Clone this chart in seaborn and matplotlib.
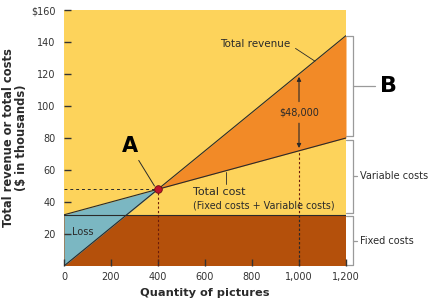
import matplotlib
matplotlib.use("Agg")
import matplotlib.pyplot as plt
import seaborn as sns
import numpy as np
import pandas as pd

# ---- data ----
quantity = [0, 200, 400, 600, 800, 1000, 1200]
total_revenue = [0, 24, 48, 72, 96, 120, 144]
total_cost = [32, 40, 48, 56, 64, 72, 80]
fixed_cost = 32
break_even_qty = 400
break_even_value = 48
profit_qty = 1000
x_ticks = [0, 200, 400, 600, 800, 1000, 1200]
x_tick_labels = ["0", "200", "400", "600", "800", "1,000", "1,200"]
y_ticks = [20, 40, 60, 80, 100, 120, 140, 160]
y_tick_labels = ["20", "40", "60", "80", "100", "120", "140", "$160"]

sns.set_theme(style="white")
plt.rcParams['font.family'] = ['DejaVu Sans']

YELLOW = "#FDD35B"
BROWN = "#B4500B"
ORANGE = "#F28A27"
TEAL = "#7BB7C2"
DARK = "#2a2a2a"
GRAY = "#9a9a9a"

df = pd.DataFrame({"q": quantity, "rev": total_revenue, "cost": total_cost})

fig = plt.figure(figsize=(4.43, 3.08), dpi=100)
ax = fig.add_axes([64/443, 42/308, 282/443, 256/308])
ax.set_facecolor(YELLOW)
ax.set_axisbelow(False)
ax.set_xlim(0, 1200)
ax.set_ylim(0, 160)

q = np.array(quantity, dtype=float)
rev = np.array(total_revenue, dtype=float)
cost = np.array(total_cost, dtype=float)

# fixed cost region
ax.fill_between(q, 0, fixed_cost, color=BROWN, lw=0, zorder=1)
# loss and profit regions
ax.fill_between(q, rev, cost, where=rev <= cost, interpolate=True, color=TEAL, lw=0, zorder=2)
ax.fill_between(q, rev, cost, where=rev >= cost, interpolate=True, color=ORANGE, lw=0, zorder=2)

# lines
sns.lineplot(data=df, x="q", y="rev", ax=ax, color=DARK, lw=0.8, zorder=3)
sns.lineplot(data=df, x="q", y="cost", ax=ax, color=DARK, lw=0.8, zorder=3)
ax.plot([0, 1200], [fixed_cost, fixed_cost], color=DARK, lw=0.8, zorder=3)

# break-even guides
ax.plot([0, break_even_qty], [break_even_value, break_even_value], color=DARK, lw=0.7, ls=(0, (3, 3)), zorder=3)
ax.plot([break_even_qty, break_even_qty], [0, break_even_value], color="#6b1a0a", lw=0.8, ls=(0, (2, 2)), zorder=3)
cost_at_p = np.interp(profit_qty, q, cost)
rev_at_p = np.interp(profit_qty, q, rev)
ax.plot([profit_qty, profit_qty], [0, cost_at_p], color="#6b1a0a", lw=0.8, ls=(0, (2, 2)), zorder=3)
ax.plot([profit_qty, profit_qty], [0, fixed_cost], color=DARK, lw=0.8, ls=(0, (2, 2)), zorder=3)

# profit arrow
mid = (cost_at_p + rev_at_p) / 2
ax.annotate("", xy=(profit_qty, rev_at_p), xytext=(profit_qty, mid + 5),
            arrowprops=dict(arrowstyle="-|>", color=DARK, lw=0.8, mutation_scale=6), zorder=4)
ax.annotate("", xy=(profit_qty, cost_at_p), xytext=(profit_qty, mid - 5),
            arrowprops=dict(arrowstyle="-|>", color=DARK, lw=0.8, mutation_scale=6), zorder=4)
ax.text(profit_qty, mid, "$48,000", ha="center", va="center", fontsize=7, color=DARK, zorder=5)

# break-even point
ax.scatter([break_even_qty], [break_even_value], s=30, color="#C0142C", edgecolor="#6b0a10", lw=0.6, zorder=6)
ax.plot([318, 385], [66, 50], color=DARK, lw=0.7, zorder=5)
ax.text(282, 75, "A", fontsize=15, fontweight="bold", color="black", ha="center", va="center", zorder=5)

# labels
ax.text(813, 139, "Total revenue", fontsize=7.5, color=DARK, ha="center", va="center")
ax.plot([985, 1068], [136, 128], color=DARK, lw=0.6)
ax.text(549, 46, "Total cost", fontsize=8, color=DARK, ha="left", va="center")
ax.text(549, 37.5, "(Fixed costs + Variable costs)", fontsize=6.9, color=DARK, ha="left", va="center")
ax.plot([689, 689], [58.5, 51], color=DARK, lw=0.6)
ax.text(34, 21, "Loss", fontsize=7, color=DARK, ha="left", va="center")

# brackets on the right
def bracket(y0, y1, label, big=False):
    xb = 1230
    ax.plot([1200, xb, xb, 1200], [y1, y1, y0, y0], color=GRAY, lw=0.9, clip_on=False)
    ym = (y0 + y1) / 2
    if big:
        ax.plot([xb, 1323], [ym, ym], color=GRAY, lw=0.9, clip_on=False)
        ax.text(1345, ym, label, fontsize=16, fontweight="bold",
                color="black", ha="left", va="center", clip_on=False)
    else:
        ax.plot([xb, 1245], [ym, ym], color=GRAY, lw=0.9, clip_on=False)
        ax.text(1260, ym, label, fontsize=7, color=DARK, ha="left", va="center", clip_on=False)

bracket(81, 144, "B", big=True)
bracket(33, 79, "Variable costs")
bracket(0.5, 31, "Fixed costs")

# axes styling
for s in ax.spines.values():
    s.set_visible(False)
ax.set_xticks(x_ticks)
ax.set_xticklabels(x_tick_labels)
ax.set_yticks(y_ticks)
ax.set_yticklabels(y_tick_labels)
ax.tick_params(axis="both", direction="in", length=5, width=1.0, color="#333333",
               labelsize=7, labelcolor="#333333", pad=4, left=True, bottom=True)
ax.tick_params(axis="y", pad=6)
ax.set_xlabel("Quantity of pictures", fontsize=8.2, fontweight="bold", color=DARK, labelpad=5)
ax.set_ylabel("Total revenue or total costs\n($ in thousands)", fontsize=8.3, fontweight="bold",
              color=DARK, labelpad=2, linespacing=1.0)
ax.grid(False)

fig.savefig("out.png", dpi=100, facecolor="white")
